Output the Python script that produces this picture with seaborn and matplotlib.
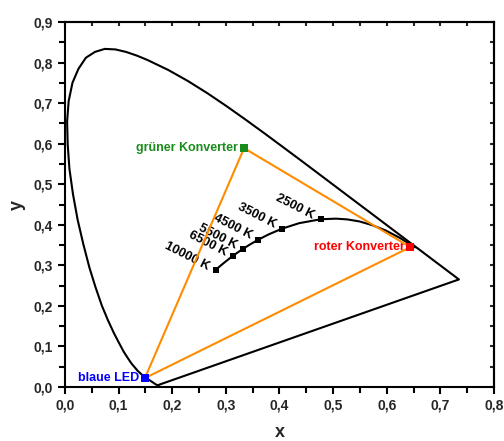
import matplotlib
matplotlib.use("Agg")
import matplotlib.pyplot as plt
import matplotlib.ticker as mticker
import numpy as np
import pandas as pd
import seaborn as sns

# CIE 1931 spectral locus (x, y), 380..700 nm (finer near the curved parts)
locus_x = [0.1741, 0.1740, 0.1738, 0.1736, 0.1733, 0.1730, 0.1726, 0.1721, 0.1714, 0.1703,
           0.1689, 0.1669, 0.1644, 0.1611, 0.1566, 0.1510, 0.1440, 0.1355, 0.1304, 0.1241,
           0.1173, 0.1096, 0.1010, 0.0913, 0.0803, 0.0687, 0.0568, 0.0454, 0.0340, 0.0235,
           0.0148, 0.0082, 0.0050, 0.0039, 0.0068, 0.0139, 0.0250, 0.0389, 0.0560, 0.0743,
           0.0940, 0.1142, 0.1345, 0.1547, 0.1929, 0.2296, 0.2658, 0.3016, 0.3373, 0.3731,
           0.4087, 0.4441, 0.4788, 0.5125, 0.5448, 0.5752, 0.6029, 0.6270, 0.6482, 0.6658,
           0.6801, 0.6915, 0.7006, 0.7079, 0.7140, 0.7190, 0.7230, 0.7260, 0.7300, 0.7334,
           0.7347]
locus_y = [0.0050, 0.0050, 0.0049, 0.0049, 0.0048, 0.0048, 0.0048, 0.0048, 0.0051, 0.0058,
           0.0069, 0.0086, 0.0109, 0.0138, 0.0177, 0.0227, 0.0297, 0.0399, 0.0480, 0.0578,
           0.0710, 0.0868, 0.1080, 0.1327, 0.1640, 0.2007, 0.2465, 0.2950, 0.3530, 0.4127,
           0.4760, 0.5384, 0.5980, 0.6548, 0.7050, 0.7502, 0.7845, 0.8120, 0.8265, 0.8338,
           0.8325, 0.8262, 0.8170, 0.8059, 0.7816, 0.7543, 0.7243, 0.6923, 0.6589, 0.6245,
           0.5896, 0.5547, 0.5202, 0.4866, 0.4544, 0.4242, 0.3965, 0.3725, 0.3514, 0.3340,
           0.3197, 0.3083, 0.2993, 0.2920, 0.2859, 0.2809, 0.2770, 0.2740, 0.2700, 0.2666,
           0.2653]

# Planckian locus 10000 K .. 1000 K
planck_T = [10000, 9000, 8000, 7000, 6500, 6000, 5500, 5000, 4500, 4000, 3500, 3000,
            2500, 2200, 2000, 1800, 1600, 1400, 1200, 1000]
planck_x = [0.2807, 0.2869, 0.2952, 0.3064, 0.3135, 0.3221, 0.3325, 0.3451, 0.3608, 0.3805,
            0.4053, 0.4369, 0.4770, 0.5056, 0.5267, 0.5493, 0.5727, 0.5985, 0.6250, 0.6528]
planck_y = [0.2883, 0.2956, 0.3048, 0.3166, 0.3237, 0.3318, 0.3411, 0.3516, 0.3636, 0.3768,
            0.3907, 0.4041, 0.4137, 0.4152, 0.4133, 0.4083, 0.3993, 0.3858, 0.3674, 0.3444]

marked_T = [10000, 6500, 5500, 4500, 3500, 2500]
marked_labels = ["10000 K", "6500 K", "5500 K", "4500 K", "3500 K", "2500 K"]

# Light sources
src_names = ["blaue LED", "grüner Konverter", "roter Konverter"]
src_x = [0.149, 0.334, 0.644]
src_y = [0.022, 0.589, 0.345]
src_colors = ["#0000ff", "#1a8c1a", "#ff0000"]

sns.set_style("white")
plt.rcParams['font.family'] = ['Liberation Sans', 'DejaVu Sans']

fig = plt.figure(figsize=(5.04, 4.41), dpi=100)
ax = fig.add_axes([0.129, 0.1224, 0.851, 0.8276])

# spectral locus closed
loc_df = pd.DataFrame({"x": locus_x + [locus_x[0]], "y": locus_y + [locus_y[0]]})
sns.lineplot(data=loc_df, x="x", y="y", sort=False, estimator=None, color="black",
             linewidth=1.5, ax=ax)

# planckian locus
pl_df = pd.DataFrame({"T": planck_T, "x": planck_x, "y": planck_y})
sns.lineplot(data=pl_df, x="x", y="y", sort=False, estimator=None, color="black",
             linewidth=1.5, ax=ax)
mk_df = pl_df[pl_df["T"].isin(marked_T)]
sns.scatterplot(data=mk_df, x="x", y="y", marker="s", s=16, color="black",
                edgecolor="black", linewidth=0, ax=ax, zorder=5)
for T, lab in zip(marked_T, marked_labels):
    row = pl_df[pl_df["T"] == T].iloc[0]
    ax.annotate(lab, (row["x"], row["y"]), xytext=(-7, 3), textcoords="offset pixels",
                ha="right", va="center", rotation=-27, rotation_mode="anchor",
                fontsize=9.3, fontweight="bold", color="black")

# triangle
tri_df = pd.DataFrame({"x": src_x + [src_x[0]], "y": src_y + [src_y[0]]})
sns.lineplot(data=tri_df, x="x", y="y", sort=False, estimator=None, color="#ff8c00",
             linewidth=1.5, ax=ax, zorder=4)

src_df = pd.DataFrame({"name": src_names, "x": src_x, "y": src_y})
sns.scatterplot(data=src_df, x="x", y="y", hue="name", palette=dict(zip(src_names, src_colors)),
                marker="s", s=30, linewidth=0, legend=False, ax=ax, zorder=6)
for n, xx, yy, c in zip(src_names, src_x, src_y, src_colors):
    ax.annotate(n, (xx, yy), xytext=(-6, 0), textcoords="offset pixels",
                ha="right", va="center", fontsize=9, fontweight="bold", color=c)

ax.set_xlim(0, 0.8)
ax.set_ylim(0, 0.9)
ax.set_xticks(np.arange(0, 0.81, 0.1))
ax.set_yticks(np.arange(0, 0.91, 0.1))
ax.xaxis.set_minor_locator(mticker.MultipleLocator(0.05))
ax.yaxis.set_minor_locator(mticker.MultipleLocator(0.05))
fmt = mticker.FuncFormatter(lambda v, p: f"{v:.1f}".replace(".", ","))
ax.xaxis.set_major_formatter(fmt)
ax.yaxis.set_major_formatter(fmt)
ax.tick_params(which="both", direction="out", width=1.5, length=5, labelsize=10,
               bottom=True, left=True, color="black")
ax.tick_params(which="minor", length=4)
for lbl in ax.get_xticklabels() + ax.get_yticklabels():
    lbl.set_fontweight("bold")

for sp in ax.spines.values():
    sp.set_linewidth(1.5)
    sp.set_color("black")

secx = ax.secondary_xaxis("top")
secx.set_xticks(np.arange(0, 0.81, 0.1))
secx.xaxis.set_minor_locator(mticker.MultipleLocator(0.05))
secx.tick_params(which="both", direction="in", length=3, width=1.5, labeltop=False)
secy = ax.secondary_yaxis("right")
secy.set_yticks(np.arange(0, 0.91, 0.1))
secy.yaxis.set_minor_locator(mticker.MultipleLocator(0.05))
secy.tick_params(which="both", direction="in", length=3, width=1.5, labelright=False)
for s in (secx, secy):
    for sp in s.spines.values():
        sp.set_linewidth(1.5)

ax.set_xlabel("x", fontsize=13, fontweight="bold", labelpad=8)
ax.set_ylabel("y", fontsize=13, fontweight="bold", labelpad=6, rotation=90)

fig.savefig("out.png", dpi=100)
